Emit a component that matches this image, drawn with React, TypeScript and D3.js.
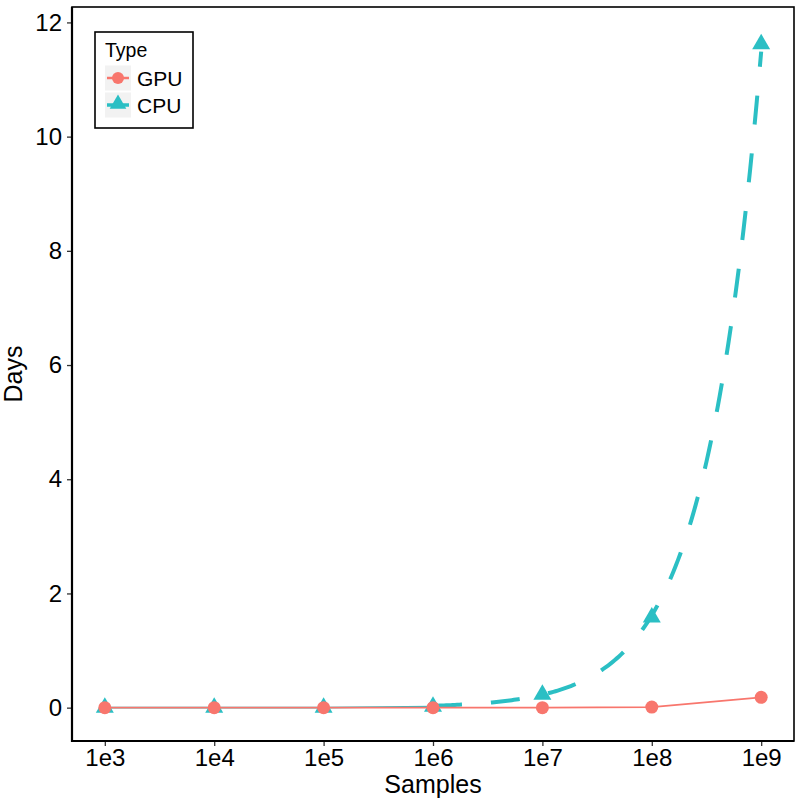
import * as d3 from 'd3';
import React, { useRef, useEffect } from 'react';

const samples = ['1e3', '1e4', '1e5', '1e6', '1e7', '1e8', '1e9'];
const exponents = [3, 4, 5, 6, 7, 8, 9];
const gpuDays = [0, 0, 0, 0, 0, 0.01, 0.18];
const cpuDays = [0, 0, 0, 0.02, 0.23, 1.58, 11.62];
const yTicks = [0, 2, 4, 6, 8, 10, 12];

const GPU_COLOR = '#F8766D';
const CPU_COLOR = '#2BBFC4';
const FONT = 'Liberation Sans, Arial, Helvetica, sans-serif';

function App() {
    const ref = useRef(null);
    const width = 800;
    const height = 806;
    const panel = { left: 72, right: 794, top: 7, bottom: 741 };

    useEffect(() => {
        const svg = d3.select(ref.current);
        svg.selectAll('*').remove();

        const x = d3.scaleLinear().domain([2.7, 9.3]).range([panel.left, panel.right]);
        const y = d3.scaleLinear().domain([-0.584, 12.27]).range([panel.bottom, panel.top]);

        const g = svg.append('g');

        // y axis ticks + labels
        const yAxis = g.append('g').attr('transform', `translate(${panel.left},0)`)
            .call(d3.axisLeft(y).tickValues(yTicks).tickSize(5).tickPadding(5));
        yAxis.select('.domain').remove();
        yAxis.selectAll('line').attr('stroke', '#333').attr('stroke-width', 1.3);
        yAxis.selectAll('text').attr('font-family', FONT).attr('font-size', 24).attr('fill', '#000');

        // x axis
        const xAxis = g.append('g').attr('transform', `translate(0,${panel.bottom})`)
            .call(d3.axisBottom(x).tickValues(exponents).tickFormat((d, i) => samples[i]).tickSize(5).tickPadding(3));
        xAxis.select('.domain').remove();
        xAxis.selectAll('line').attr('stroke', '#333').attr('stroke-width', 1.3);
        xAxis.selectAll('text').attr('font-family', FONT).attr('font-size', 24).attr('fill', '#000');

        // panel border
        g.append('rect')
            .attr('x', panel.left).attr('y', panel.top)
            .attr('width', panel.right - panel.left).attr('height', panel.bottom - panel.top)
            .attr('fill', 'none').attr('stroke', '#000').attr('stroke-width', 1.6);
        g.append('path')
            .attr('d', `M${panel.left},${panel.top}V${panel.bottom}H${panel.right}`)
            .attr('fill', 'none').attr('stroke', '#000').attr('stroke-width', 2.2);

        // axis titles
        g.append('text').attr('x', (panel.left + panel.right) / 2).attr('y', 793)
            .attr('text-anchor', 'middle').attr('font-family', FONT).attr('font-size', 25)
            .text('Samples');
        g.append('text').attr('transform', `translate(22,${(panel.top + panel.bottom) / 2}) rotate(-90)`)
            .attr('text-anchor', 'middle').attr('font-family', FONT).attr('font-size', 25)
            .text('Days');

        const cpuPts = exponents.map((e, i) => [x(e), y(cpuDays[i])]);
        const gpuPts = exponents.map((e, i) => [x(e), y(gpuDays[i])]);

        // exponential trend fitted on the upper CPU points (log-linear regression)
        const fitIdx = [4, 5, 6];
        const fx = fitIdx.map((i) => exponents[i]);
        const fy = fitIdx.map((i) => Math.log(cpuDays[i]));
        const mx = d3.mean(fx), my = d3.mean(fy);
        const slope = d3.sum(fx.map((v, k) => (v - mx) * (fy[k] - my))) / d3.sum(fx.map((v) => (v - mx) ** 2));
        const trend = d3.range(6, 9.0001, 0.02).map((e) => [x(e), y(Math.exp(my + slope * (e - mx)))]);

        // CPU: thin solid start, thick dashed trend
        g.append('path')
            .attr('d', d3.line()(cpuPts.slice(0, 4)))
            .attr('fill', 'none').attr('stroke', CPU_COLOR).attr('stroke-width', 1.6);
        g.append('path')
            .attr('d', d3.line()(trend))
            .attr('fill', 'none').attr('stroke', CPU_COLOR).attr('stroke-width', 4)
            .attr('stroke-dasharray', '29,29');

        const tri = d3.symbol().type(d3.symbolTriangle).size(140);
        g.append('g').selectAll('path').data(cpuPts).enter().append('path')
            .attr('transform', (d) => `translate(${d[0]},${d[1]})`)
            .attr('d', tri).attr('fill', CPU_COLOR);

        // GPU
        g.append('path')
            .attr('d', d3.line()(gpuPts))
            .attr('fill', 'none').attr('stroke', GPU_COLOR).attr('stroke-width', 1.6);
        g.append('g').selectAll('circle').data(gpuPts).enter().append('circle')
            .attr('cx', (d) => d[0]).attr('cy', (d) => d[1]).attr('r', 6.5)
            .attr('fill', GPU_COLOR);

        // legend
        const lg = g.append('g');
        lg.append('rect').attr('x', 95).attr('y', 32).attr('width', 98).attr('height', 96)
            .attr('fill', '#fff').attr('stroke', '#000').attr('stroke-width', 1.6);
        lg.append('text').attr('x', 105).attr('y', 57).attr('font-family', FONT).attr('font-size', 19.5)
            .text('Type');
        const keys = [
            { label: 'GPU', color: GPU_COLOR, shape: 'circle', cy: 78 },
            { label: 'CPU', color: CPU_COLOR, shape: 'tri', cy: 105 },
        ];
        keys.forEach((k) => {
            lg.append('rect').attr('x', 105).attr('y', k.cy - 12.5).attr('width', 26).attr('height', 25)
                .attr('fill', '#F2F2F2');
            lg.append('line').attr('x1', 107).attr('x2', 129).attr('y1', k.cy).attr('y2', k.cy)
                .attr('stroke', k.color).attr('stroke-width', k.shape === 'tri' ? 3.5 : 2.5);
            if (k.shape === 'circle') {
                lg.append('circle').attr('cx', 118).attr('cy', k.cy).attr('r', 6).attr('fill', k.color);
            } else {
                lg.append('path').attr('transform', `translate(118,${k.cy - 1})`)
                    .attr('d', d3.symbol().type(d3.symbolTriangle).size(120)).attr('fill', k.color);
            }
            lg.append('text').attr('x', 137).attr('y', k.cy + 7.5).attr('font-family', FONT)
                .attr('font-size', 21).text(k.label);
        });
    }, []);

    return (
        <div style={{ position: 'absolute', left: 0, top: 0, width, height }}>
            <svg ref={ref} width={width} height={height} style={{ display: 'block', background: '#fff' }} />
        </div>
    );
}

export default App;
